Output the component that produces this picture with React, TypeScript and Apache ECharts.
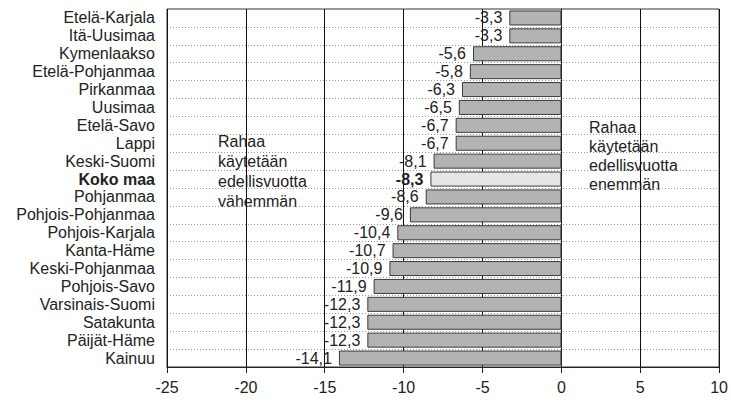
import React, { useEffect, useRef } from "react";
import * as echarts from "echarts";

const categories = [
  "Etelä-Karjala", "Itä-Uusimaa", "Kymenlaakso", "Etelä-Pohjanmaa", "Pirkanmaa",
  "Uusimaa", "Etelä-Savo", "Lappi", "Keski-Suomi", "Koko maa", "Pohjanmaa",
  "Pohjois-Pohjanmaa", "Pohjois-Karjala", "Kanta-Häme", "Keski-Pohjanmaa",
  "Pohjois-Savo", "Varsinais-Suomi", "Satakunta", "Päijät-Häme", "Kainuu",
];
const values = [
  -3.3, -3.3, -5.6, -5.8, -6.3, -6.5, -6.7, -6.7, -8.1, -8.3, -8.6,
  -9.6, -10.4, -10.7, -10.9, -11.9, -12.3, -12.3, -12.3, -14.1,
];
const highlight = "Koko maa";
const leftNote = ["Rahaa", "käytetään", "edellisvuotta", "vähemmän"];
const rightNote = ["Rahaa", "käytetään", "edellisvuotta", "enemmän"];

const FONT = "'Liberation Sans', Arial, sans-serif";
const TXT = "#222";

export default function App() {
  const ref = useRef<HTMLDivElement>(null);
  useEffect(() => {
    if (!ref.current) return;
    const chart = echarts.init(ref.current, null, { renderer: "svg" });
    const fmt = (v: number) => String(v).replace(".", ",");
    chart.setOption({
      animation: false,
      textStyle: { fontFamily: FONT },
      grid: {
        left: 167, right: 10, top: 9, bottom: 36,
        show: true, borderColor: "#333", borderWidth: 1,
      },
      xAxis: {
        type: "value", min: -25, max: 10, interval: 5,
        axisLine: { show: true, onZero: false, lineStyle: { color: "#222" } },
        axisTick: { show: true, length: 6, lineStyle: { color: "#222" } },
        axisLabel: { fontFamily: FONT, fontSize: 16, color: TXT, margin: 12 },
        splitLine: { show: true, lineStyle: { color: "#111", width: 1 } },
      },
      yAxis: {
        type: "category", data: categories, inverse: true,
        axisLine: { show: true, lineStyle: { color: "#222" } },
        axisTick: { show: false },
        axisLabel: {
          interval: 0,
          fontFamily: FONT, fontSize: 16, color: TXT, margin: 12,
          formatter: (v: string) => (v === highlight ? `{b|${v}}` : v),
          rich: { b: { fontFamily: FONT, fontSize: 16, fontWeight: "bold", color: TXT } },
        },
        splitLine: { show: true, interval: 0, lineStyle: { color: "#999", type: [1, 2], width: 1 } },
      },
      series: [{
        type: "bar",
        barCategoryGap: "16%",
        data: values.map((v, i) => ({
          value: v,
          itemStyle: categories[i] === highlight ? { color: "#e6e6e6" } : undefined,
          label: categories[i] === highlight ? { fontWeight: "bold" } : undefined,
        })),
        itemStyle: { color: "#b3b3b3", borderColor: "#3a3a3a", borderWidth: 1 },
        label: {
          show: true, position: "left", distance: 7,
          fontFamily: FONT, fontSize: 16, color: TXT,
          formatter: (p: any) => fmt(p.value),
        },
      }],
      graphic: [
        ...leftNote.map((t, i) => ({
          type: "text", left: 218, top: 133 + i * 20,
          style: { text: t, font: `16px ${FONT}`, fill: TXT },
        })),
        ...rightNote.map((t, i) => ({
          type: "text", left: 589, top: 119 + i * 19,
          style: { text: t, font: `16px ${FONT}`, fill: TXT },
        })),
      ],
    });
    return () => chart.dispose();
  }, []);
  return <div ref={ref} style={{ width: 731, height: 403, position: "absolute", left: 0, top: 0 }} />;
}
